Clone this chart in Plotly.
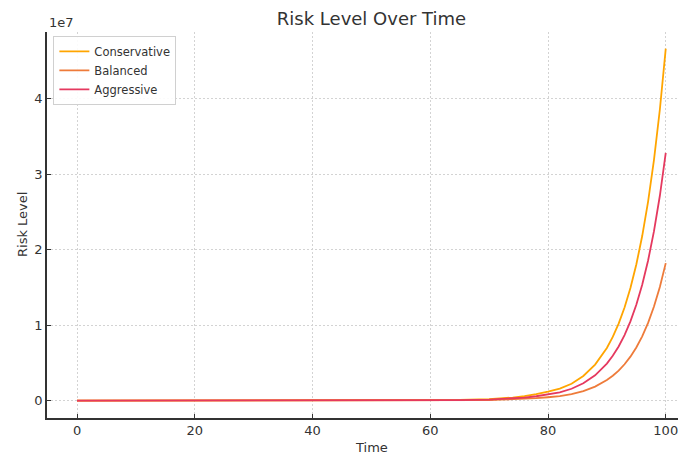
import plotly.graph_objects as go

time = [0, 10, 20, 30, 40, 50, 60, 65, 70, 72, 74, 76, 78, 80, 82, 84, 86, 88,
        90, 91, 92, 93, 94, 95, 96, 97, 98, 99, 100]

# values in units of 1e7
conservative = [0.0, 0.0, 0.0, 0.00001, 0.0001, 0.0005, 0.003, 0.008, 0.02, 0.028, 0.04,
                0.06, 0.085, 0.12, 0.16, 0.223, 0.326, 0.477, 0.697, 0.843, 1.019,
                1.232, 1.49, 1.802, 2.179, 2.635, 3.187, 3.854, 4.66]
balanced = [0.0, 0.0, 0.0, 0.0, 0.00003, 0.0002, 0.0015, 0.0035, 0.008, 0.012, 0.017,
            0.024, 0.033, 0.045, 0.06, 0.087, 0.127, 0.186, 0.272, 0.329, 0.398,
            0.481, 0.582, 0.704, 0.851, 1.029, 1.245, 1.505, 1.82]
aggressive = [0.0, 0.0, 0.0, 0.0, 0.00005, 0.0003, 0.002, 0.006, 0.014, 0.02, 0.028,
              0.04, 0.058, 0.08, 0.11, 0.157, 0.229, 0.335, 0.491, 0.593, 0.717,
              0.868, 1.049, 1.268, 1.534, 1.855, 2.243, 2.712, 3.28]
scale = 1e7

series = [("Conservative", conservative, "#FFA500"),
          ("Balanced", balanced, "#EE7B3A"),
          ("Aggressive", aggressive, "#E5395F")]

y_ticks = [0, 1, 2, 3, 4]
x_ticks = [0, 20, 40, 60, 80, 100]

# page body margin shifts the figure by 8px; positions below are screen pixels
OFF = 8
W, H = 686 - OFF, 455 - OFF
L, R, T, B = 47 - OFF, 684 - OFF, 32 - OFF, 418 - OFF
CENTER_X = 371.5 - OFF  # centre of the (cropped) axes area on screen

fig = go.Figure()
for name, vals, color in series:
    fig.add_trace(go.Scatter(x=time, y=[v * scale for v in vals], mode="lines",
                             name=name, line=dict(color=color, width=1.8)))

font_family = "DejaVu Sans, sans-serif"
fig.update_layout(
    width=W, height=H,
    margin=dict(l=L, r=W - R, t=T, b=H - B, autoexpand=False),
    paper_bgcolor="white", plot_bgcolor="white",
    font=dict(family=font_family, size=13, color="#333333"),
    title=dict(text="Risk Level Over Time", x=CENTER_X / W, xanchor="center",
               y=1 - (19 - OFF) / H, yanchor="middle",
               font=dict(size=18, color="#333333")),
    showlegend=True,
    legend=dict(x=0.01, y=0.99, xanchor="left", yanchor="top",
                bgcolor="rgba(255,255,255,0.9)", bordercolor="#D0D0D0", borderwidth=1,
                font=dict(size=11.5, color="#333333"), tracegroupgap=0,
                itemwidth=30),
    xaxis=dict(range=[-5.1, 103.1], tickvals=x_ticks, ticktext=[str(v) for v in x_ticks],
               showgrid=True, gridcolor="#D3D3D3", griddash="2px,2px", gridwidth=1,
               zeroline=False, showline=True, linecolor="#333333", linewidth=1.5,
               ticks="inside", ticklen=4, tickcolor="#333333", automargin=False,
               tickfont=dict(size=13)),
    yaxis=dict(range=[-0.23e7, 4.88e7], tickvals=[v * scale for v in y_ticks],
               ticktext=[str(v) for v in y_ticks],
               showgrid=True, gridcolor="#D3D3D3", griddash="2px,2px", gridwidth=1,
               zeroline=False, showline=True, linecolor="#333333", linewidth=1.5,
               ticks="inside", ticklen=4, tickcolor="#333333", automargin=False,
               tickfont=dict(size=13)),
)
fig.add_annotation(text="1e7", xref="paper", yref="paper", x=0, y=1, xanchor="left",
                   yanchor="bottom", showarrow=False, font=dict(size=13, color="#333333"),
                   yshift=0)
fig.add_annotation(text="Time", xref="paper", yref="paper", x=(CENTER_X - L) / (R - L),
                   y=0, xanchor="center", yanchor="middle", showarrow=False,
                   font=dict(size=13, color="#333333"), yshift=-(447 - 418))
fig.add_annotation(text="Risk Level", xref="paper", yref="paper", x=0, y=0.5,
                   xanchor="center", yanchor="middle", textangle=-90, showarrow=False,
                   font=dict(size=13, color="#333333"), xshift=-(47 - 22))

fig.write_html("out.html")
